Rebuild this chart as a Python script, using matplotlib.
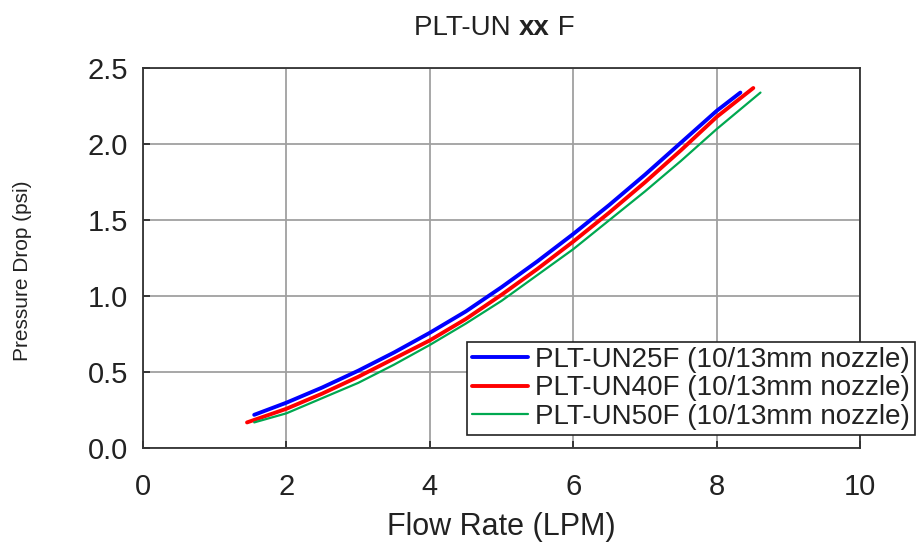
import matplotlib
matplotlib.use("Agg")
import matplotlib.pyplot as plt

plt.rcParams['font.family'] = ['Liberation Sans', 'DejaVu Sans']

# values
un25_x = [1.55, 2.0, 2.5, 3.0, 3.5, 4.0, 4.5, 5.0, 5.5, 6.0, 6.5, 7.0, 7.5, 8.0, 8.33]
un25_y = [0.22, 0.30, 0.40, 0.51, 0.63, 0.76, 0.90, 1.06, 1.23, 1.41, 1.60, 1.80, 2.01, 2.22, 2.34]
un40_x = [1.45, 2.0, 2.5, 3.0, 3.5, 4.0, 4.5, 5.0, 5.5, 6.0, 6.5, 7.0, 7.5, 8.0, 8.51]
un40_y = [0.17, 0.26, 0.36, 0.47, 0.59, 0.71, 0.85, 1.01, 1.18, 1.36, 1.55, 1.75, 1.96, 2.18, 2.37]
un50_x = [1.55, 2.0, 2.5, 3.0, 3.5, 4.0, 4.5, 5.0, 5.5, 6.0, 6.5, 7.0, 7.5, 8.0, 8.61]
un50_y = [0.17, 0.23, 0.33, 0.43, 0.55, 0.68, 0.82, 0.97, 1.14, 1.31, 1.50, 1.69, 1.89, 2.10, 2.34]
labels = ['PLT-UN25F (10/13mm nozzle)', 'PLT-UN40F (10/13mm nozzle)',
          'PLT-UN50F (10/13mm nozzle)']
xticks = [0, 2, 4, 6, 8, 10]
yticks = [0.0, 0.5, 1.0, 1.5, 2.0, 2.5]

txt = '#222222'

fig = plt.figure(figsize=(9.17, 5.46), dpi=100)
ax = fig.add_axes([0.156, 0.179, 0.782, 0.696])

ax.plot(un25_x, un25_y, color='#0000ff', lw=2.8, label=labels[0], solid_capstyle='round')
ax.plot(un40_x, un40_y, color='#ff0000', lw=2.8, label=labels[1], solid_capstyle='round')
ax.plot(un50_x, un50_y, color='#00a850', lw=1.6, label=labels[2], solid_capstyle='round')

ax.set_xlim(0, 10)
ax.set_ylim(0, 2.5)
ax.set_xticks(xticks)
ax.set_yticks(yticks)
ax.set_yticklabels(['%.1f' % v for v in yticks])
ax.grid(True, color='#a0a0a0', lw=1.3)
ax.set_axisbelow(True)
ax.tick_params(direction='in', length=5, width=1.2, labelsize=21, colors=txt)
ax.tick_params(axis='x', pad=18)
ax.tick_params(axis='y', pad=11)
for s in ax.spines.values():
    s.set_color('#333333')
    s.set_linewidth(1.3)

ax.set_xlabel('Flow Rate (LPM)', fontsize=22, color=txt, labelpad=8)
ax.set_ylabel('Pressure Drop (psi)', fontsize=15, color=txt)
ax.yaxis.set_label_coords(-0.155, 0.466)

# title with a bold middle part
t1 = fig.text(0.452, 0.935, 'PLT-UN ', fontsize=20, color=txt, ha='left', va='baseline')
t2 = ax.annotate('xx', xycoords=t1, xy=(1, 0), va='bottom', fontsize=20,
                 fontweight='bold', color=txt)
ax.annotate(' F', xycoords=t2, xy=(1, 0), va='bottom', fontsize=20, color=txt)

leg = ax.legend(loc='lower right', bbox_to_anchor=(0.998, 0.203), bbox_transform=fig.transFigure,
                fontsize=20, frameon=True, fancybox=False, framealpha=1,
                edgecolor='#222222', borderpad=0.2, labelspacing=0.08,
                handlelength=2.0, handletextpad=0.25, borderaxespad=0)
leg.get_frame().set_linewidth(1.2)
for t in leg.get_texts():
    t.set_color(txt)

fig.savefig('out.png', dpi=100)
